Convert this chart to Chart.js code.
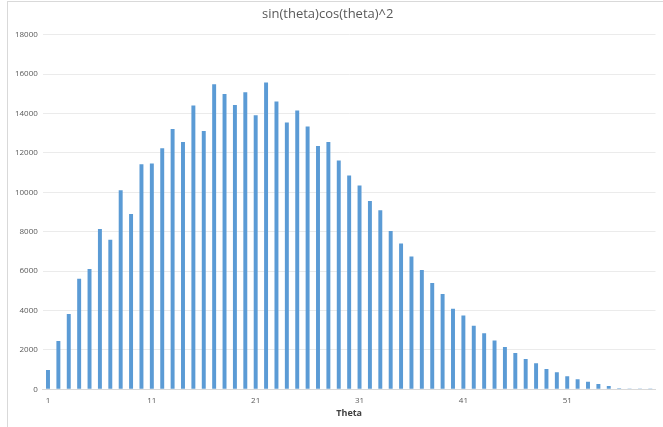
<!DOCTYPE html>
<html>
<head>
<meta charset="utf-8">
<script src="https://cdn.jsdelivr.net/npm/chart.js@4/dist/chart.umd.min.js"></script>
<style>
    body { margin: 0; background: #fff; }
    #wrap { position: relative; width: 663px; height: 427px; overflow: hidden; }
    #frame { position: absolute; left: 7px; top: 1px; width: 700px; height: 500px; border: 1px solid #d9d9d9; pointer-events: none; }
</style>
</head>
<body>
<div id="wrap">
    <canvas id="chart" width="663" height="427"></canvas>
    <div id="frame"></div>
</div>
<script>
const thetaLabels = [];
for (let i = 1; i <= 59; i++) thetaLabels.push(String(i));

const counts = [
    980, 2450, 3820, 5610, 6100, 8130, 7590, 10100, 8890, 11420,
    11460, 12230, 13210, 12550, 14400, 13110, 15480, 14990, 14430, 15070,
    13910, 15570, 14600, 13540, 14150, 13330, 12350, 12550, 11610, 10850,
    10340, 9550, 9090, 8030, 7400, 6740, 6050, 5390, 4830, 4090,
    3750, 3230, 2840, 2480, 2150, 1840, 1540, 1320, 1030, 862,
    665, 507, 380, 275, 167, 55, 20, 12, 6
];

const yMax = 18000;
const yStep = 2000;

const ctx = document.getElementById('chart').getContext('2d');
new Chart(ctx, {
    type: 'bar',
    data: {
        labels: thetaLabels,
        datasets: [{
            label: 'sin(theta)cos(theta)^2',
            data: counts,
            backgroundColor: '#5b9bd5',
            barPercentage: 0.38,
            categoryPercentage: 1.0
        }]
    },
    options: {
        responsive: false,
        animation: false,
        layout: { padding: { left: 0, right: 7.5, top: 0, bottom: 0 } },
        plugins: {
            legend: { display: false },
            tooltip: { enabled: false },
            title: {
                display: true,
                text: 'sin(theta)cos(theta)^2',
                color: '#595959',
                font: { family: 'Open Sans', size: 13, weight: 'normal' },
                padding: { top: 6, bottom: 13 }
            }
        },
        scales: {
            x: {
                grid: { display: false, drawTicks: false },
                border: { display: true, color: '#d9d9d9' },
                ticks: {
                    autoSkip: false,
                    maxRotation: 0,
                    padding: 7,
                    color: '#595959',
                    font: { family: 'Open Sans', size: 8 },
                    callback: function(value, index) {
                        return index % 10 === 0 ? thetaLabels[index] : '';
                    }
                },
                title: {
                    display: true,
                    text: 'Theta',
                    color: '#404040',
                    font: { family: 'Open Sans', size: 9, weight: 'bold' },
                    padding: { top: 2, bottom: 8.6 }
                },
                afterFit: function(scale) { scale.height = 37.7; }
            },
            y: {
                min: 0,
                max: yMax,
                grid: { color: '#ebebeb', drawTicks: false },
                border: { display: false },
                ticks: {
                    stepSize: yStep,
                    padding: 5,
                    color: '#595959',
                    font: { family: 'Open Sans', size: 8 },
                    callback: function(value) { return String(value); }
                },
                afterFit: function(scale) { scale.width = 42.8; }
            }
        }
    }
});
</script>
</body>
</html>
